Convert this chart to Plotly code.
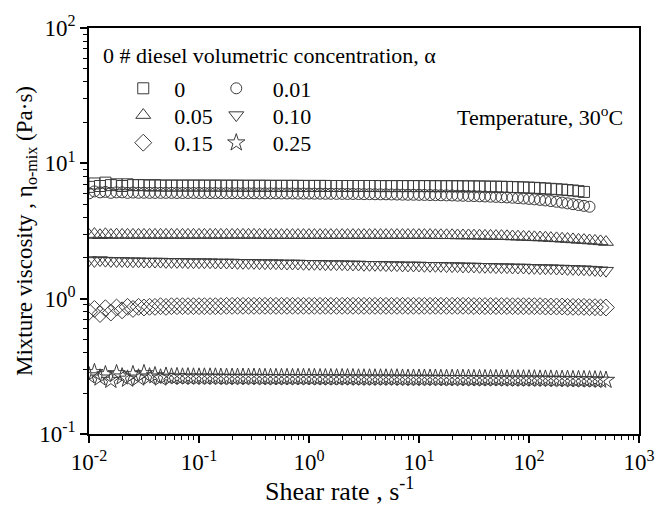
import plotly.graph_objects as go

# ---------------- data ----------------
shear_rate = [
    0.01, 0.0112, 0.0126, 0.0141, 0.0158, 0.0178, 0.02, 0.0224, 0.0251, 0.0282,
    0.0316, 0.0355, 0.0398, 0.0447, 0.0501, 0.0562, 0.0631, 0.0708, 0.0794, 0.0891,
    0.1, 0.112, 0.126, 0.141, 0.158, 0.178, 0.2, 0.224, 0.251, 0.282,
    0.316, 0.355, 0.398, 0.447, 0.501, 0.562, 0.631, 0.708, 0.794, 0.891,
    1.0, 1.12, 1.26, 1.41, 1.58, 1.78, 2.0, 2.24, 2.51, 2.82,
    3.16, 3.55, 3.98, 4.47, 5.01, 5.62, 6.31, 7.08, 7.94, 8.91,
    10.0, 11.2, 12.6, 14.1, 15.8, 17.8, 20.0, 22.4, 25.1, 28.2,
    31.6, 35.5, 39.8, 44.7, 50.1, 56.2, 63.1, 70.8, 79.4, 89.1,
    100, 112, 126, 141, 158, 178, 200, 224, 251, 282,
    316, 355, 398, 447, 501,
]

visc_0 = [
    6.7, 7.1, 6.8, 7.2, 6.9, 7.0, 6.8, 7.0, 6.9, 6.9, 6.9, 6.85, 6.9, 6.85, 6.85, 6.85, 6.85, 6.85, 6.85, 6.85,
    6.85, 6.85, 6.84, 6.85, 6.84, 6.84, 6.84, 6.84, 6.83, 6.83, 6.83, 6.83, 6.83, 6.82, 6.82, 6.82, 6.82, 6.82, 6.82, 6.81,
    6.81, 6.81, 6.81, 6.81, 6.8, 6.8, 6.8, 6.8, 6.8, 6.8, 6.8, 6.8, 6.8, 6.79, 6.79, 6.79, 6.79, 6.79, 6.79, 6.79,
    6.79, 6.79, 6.79, 6.78, 6.78, 6.78, 6.78, 6.77, 6.77, 6.76, 6.76, 6.75, 6.74, 6.73, 6.72, 6.71, 6.7, 6.68, 6.66, 6.64,
    6.62, 6.59, 6.56, 6.52, 6.48, 6.44, 6.4, 6.35, 6.3, 6.23, 6.15,
]
visc_001 = [
    6.0, 6.2, 6.1, 6.15, 6.05, 6.1, 6.1, 6.05, 6.08, 6.06, 6.06, 6.05, 6.05, 6.05, 6.05, 6.05, 6.04, 6.04, 6.04, 6.04,
    6.04, 6.03, 6.03, 6.03, 6.02, 6.02, 6.02, 6.02, 6.01, 6.01, 6.01, 6.0, 6.0, 6.0, 6.0, 5.99, 5.99, 5.99, 5.98, 5.98,
    5.98, 5.97, 5.97, 5.96, 5.96, 5.95, 5.95, 5.94, 5.94, 5.93, 5.92, 5.92, 5.91, 5.9, 5.9, 5.89, 5.88, 5.87, 5.86, 5.86,
    5.85, 5.84, 5.83, 5.82, 5.81, 5.8, 5.79, 5.77, 5.76, 5.74, 5.73, 5.71, 5.69, 5.67, 5.65, 5.62, 5.6, 5.57, 5.54, 5.5,
    5.46, 5.42, 5.37, 5.32, 5.26, 5.2, 5.13, 5.06, 4.99, 4.92, 4.85, 4.78,
]
visc_005 = [
    2.95, 3.0, 2.94, 2.99, 2.95, 2.97, 2.96, 2.96, 2.96, 2.96, 2.96, 2.96, 2.96, 2.96, 2.96, 2.96, 2.96, 2.96, 2.96, 2.96,
    2.96, 2.96, 2.96, 2.96, 2.96, 2.96, 2.96, 2.96, 2.96, 2.96, 2.96, 2.96, 2.95, 2.95, 2.95, 2.95, 2.95, 2.95, 2.95, 2.95,
    2.95, 2.95, 2.95, 2.95, 2.95, 2.95, 2.95, 2.95, 2.95, 2.95, 2.95, 2.95, 2.95, 2.95, 2.95, 2.95, 2.95, 2.95, 2.95, 2.95,
    2.95, 2.95, 2.95, 2.94, 2.94, 2.94, 2.94, 2.93, 2.93, 2.93, 2.92, 2.92, 2.91, 2.91, 2.9, 2.9, 2.89, 2.88, 2.87, 2.86,
    2.85, 2.84, 2.83, 2.82, 2.8, 2.79, 2.77, 2.76, 2.74, 2.72, 2.71, 2.69, 2.67, 2.65, 2.62,
]
visc_010 = [
    1.93, 1.9, 1.93, 1.91, 1.9, 1.9, 1.9, 1.89, 1.89, 1.89, 1.88, 1.88, 1.88, 1.88, 1.87, 1.87, 1.87, 1.87, 1.86, 1.86,
    1.86, 1.86, 1.86, 1.85, 1.85, 1.85, 1.85, 1.84, 1.84, 1.84, 1.84, 1.83, 1.83, 1.83, 1.83, 1.82, 1.82, 1.82, 1.82, 1.81,
    1.81, 1.81, 1.81, 1.8, 1.8, 1.8, 1.8, 1.79, 1.79, 1.79, 1.78, 1.78, 1.78, 1.78, 1.77, 1.77, 1.77, 1.76, 1.76, 1.76,
    1.76, 1.75, 1.75, 1.75, 1.75, 1.74, 1.74, 1.74, 1.73, 1.73, 1.73, 1.72, 1.72, 1.72, 1.71, 1.71, 1.71, 1.7, 1.7, 1.7,
    1.69, 1.69, 1.68, 1.68, 1.68, 1.67, 1.67, 1.66, 1.66, 1.65, 1.65, 1.64, 1.63, 1.62, 1.61,
]
visc_015 = [
    0.8, 0.84, 0.77, 0.85, 0.79, 0.86, 0.82, 0.87, 0.84, 0.87, 0.86, 0.87, 0.87, 0.88, 0.87, 0.88, 0.88, 0.88, 0.88, 0.88,
    0.88, 0.88, 0.88, 0.88, 0.88, 0.885, 0.885, 0.885, 0.885, 0.885, 0.885, 0.885, 0.885, 0.885, 0.885, 0.885, 0.885, 0.885, 0.885, 0.885,
    0.885, 0.885, 0.885, 0.885, 0.885, 0.885, 0.885, 0.885, 0.885, 0.885, 0.885, 0.885, 0.885, 0.885, 0.885, 0.885, 0.885, 0.885, 0.885, 0.885,
    0.885, 0.885, 0.885, 0.885, 0.885, 0.885, 0.885, 0.885, 0.885, 0.885, 0.882, 0.882, 0.882, 0.882, 0.882, 0.882, 0.882, 0.88, 0.88, 0.88,
    0.88, 0.88, 0.88, 0.875, 0.875, 0.875, 0.875, 0.87, 0.87, 0.87, 0.87, 0.865, 0.865, 0.86, 0.86,
]
visc_025 = [
    0.27, 0.285, 0.26, 0.275, 0.25, 0.28, 0.265, 0.255, 0.275, 0.26, 0.28, 0.265, 0.27, 0.26, 0.268, 0.264, 0.266, 0.264, 0.265, 0.264,
    0.264, 0.264, 0.264, 0.264, 0.263, 0.263, 0.263, 0.263, 0.263, 0.263, 0.263, 0.263, 0.262, 0.262, 0.262, 0.262, 0.262, 0.262, 0.262, 0.262,
    0.262, 0.262, 0.261, 0.261, 0.261, 0.261, 0.261, 0.261, 0.261, 0.26, 0.26, 0.26, 0.26, 0.26, 0.26, 0.26, 0.26, 0.259, 0.259, 0.259,
    0.259, 0.259, 0.259, 0.259, 0.258, 0.258, 0.258, 0.258, 0.258, 0.258, 0.257, 0.257, 0.257, 0.257, 0.257, 0.257, 0.256, 0.256, 0.256, 0.256,
    0.256, 0.256, 0.255, 0.255, 0.255, 0.254, 0.254, 0.254, 0.253, 0.253, 0.253, 0.252, 0.252, 0.251, 0.25,
]

labels = ["0", "0.01", "0.05", "0.10", "0.15", "0.25"]
values = [visc_0, visc_001, visc_005, visc_010, visc_015, visc_025]
symbols = ["square-open", "circle-open", "triangle-up-open", "triangle-down-open",
           "diamond-open", "star-open"]
sizes = [11, 11, 13, 13, 13, 13]

x_tickvals = [0.01, 0.1, 1, 10, 100, 1000]
x_ticktext = ["10<sup>-2</sup>", "10<sup>-1</sup>", "10<sup>0</sup>",
              "10<sup>1</sup>", "10<sup>2</sup>", "10<sup>3</sup>"]
y_tickvals = [0.1, 1, 10, 100]
y_ticktext = ["10<sup>-1</sup>", "10<sup>0</sup>", "10<sup>1</sup>", "10<sup>2</sup>"]

FONT = "Liberation Serif, Times New Roman, serif"
MC = "#3a3a3a"

# legend placement (paper coords): two columns, three rows
leg_x = [0.0623, 0.2314]
leg_y = [0.851, 0.785, 0.717]
leg_pad = ["\u00a0\u00a0", "\u00a0\u00a0\u00a0"]

fig = go.Figure()
legend_layouts = {}
for i, (name, vals, sym, size) in enumerate(zip(labels, values, symbols, sizes)):
    key = "legend" if i == 0 else f"legend{i + 1}"
    fig.add_trace(go.Scatter(
        x=shear_rate[:len(vals)], y=vals, mode="markers",
        name=leg_pad[i % 2] + name, legend=key,
        marker=dict(symbol=sym, size=size, color=MC, line=dict(width=1, color=MC)),
    ))
    legend_layouts[key] = dict(
        x=leg_x[i % 2], y=leg_y[i // 2], xanchor="left", yanchor="middle",
        bgcolor="rgba(0,0,0,0)", borderwidth=0,
        font=dict(family=FONT, size=22, color="black"),
    )

def minor_vals(lo, hi):
    out = []
    for p in range(lo, hi):
        for k in range(2, 10):
            out.append(k * 10 ** p)
    return out

axis_common = dict(
    type="log", showgrid=False, zeroline=False,
    showline=True, linecolor="black", linewidth=1.5, mirror=True,
    ticks="outside", ticklen=7, tickwidth=1.5, tickcolor="black",
    tickfont=dict(family=FONT, size=23, color="black"),
    tickmode="array",
)

fig.update_layout(
    width=667, height=509,
    margin=dict(l=89, r=16, t=24, b=75),
    paper_bgcolor="white", plot_bgcolor="white",
    font=dict(family=FONT, color="black"),
    showlegend=True,
    xaxis=dict(axis_common, range=[-2, 3], tickvals=x_tickvals, ticktext=x_ticktext,
               minor=dict(tickmode="array", tickvals=minor_vals(-2, 3), ticks="outside",
                          ticklen=4, tickwidth=1.2, tickcolor="black")),
    yaxis=dict(axis_common, range=[-1, 2], tickvals=y_tickvals, ticktext=y_ticktext,
               minor=dict(tickmode="array", tickvals=minor_vals(-1, 2), ticks="outside",
                          ticklen=4, tickwidth=1.2, tickcolor="black"),
               title=dict(text="Mixture viscosity , η<sub>o-mix</sub> (Pa·s)",
                          font=dict(family=FONT, size=23), standoff=0)),
    annotations=[
        dict(text="Shear rate , s<sup>-1</sup>", xref="paper", yref="paper",
             x=0.455, y=-0.137, xanchor="center", yanchor="middle", showarrow=False,
             font=dict(family=FONT, size=26)),
        dict(text="0 # diesel volumetric concentration, α", xref="paper", yref="paper",
             x=0.022, y=0.932, xanchor="left", yanchor="middle", showarrow=False,
             font=dict(family=FONT, size=22)),
        dict(text="Temperature, 30<sup>o</sup>C", xref="paper", yref="paper",
             x=0.666, y=0.783, xanchor="left", yanchor="middle", showarrow=False,
             font=dict(family=FONT, size=22)),
    ],
)
fig.update_layout(**legend_layouts)

fig.write_html("out.html")
